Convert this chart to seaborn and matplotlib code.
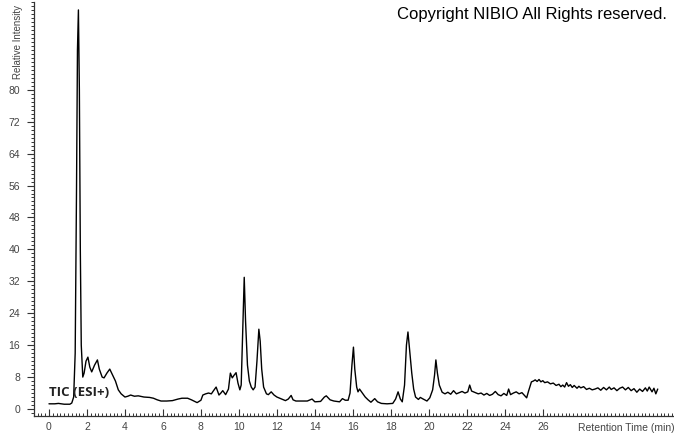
import matplotlib
matplotlib.use("Agg")
import matplotlib.pyplot as plt
import seaborn as sns
import pandas as pd
from matplotlib.ticker import MultipleLocator

# retention time (min) and relative intensity (%)
rt_min = [
    0.0, 0.3, 0.5, 0.8, 1.1, 1.2, 1.3, 1.38, 1.45, 1.5, 1.55, 1.6, 1.65, 1.7, 1.78,
    1.85, 1.95, 2.05, 2.15, 2.25, 2.4, 2.55, 2.65, 2.8, 2.9, 3.05, 3.2, 3.35, 3.5,
    3.65, 3.8, 4.0, 4.15, 4.3, 4.5, 4.7, 5.0, 5.3, 5.5, 5.7, 5.9, 6.2, 6.5, 6.8,
    7.0, 7.3, 7.5, 7.8, 8.0, 8.1, 8.25, 8.4, 8.55, 8.65, 8.8, 8.95, 9.05, 9.15,
    9.3, 9.45, 9.55, 9.65, 9.75, 9.85, 9.95, 10.05, 10.12, 10.2, 10.28, 10.35,
    10.45, 10.55, 10.65, 10.75, 10.85, 10.95, 11.05, 11.12, 11.2, 11.3, 11.45,
    11.55, 11.7, 11.85, 12.0, 12.2, 12.45, 12.6, 12.75, 12.85, 13.0, 13.3, 13.6,
    13.85, 14.0, 14.3, 14.5, 14.6, 14.8, 15.0, 15.3, 15.45, 15.6, 15.75, 15.85,
    15.95, 16.03, 16.1, 16.2, 16.27, 16.35, 16.5, 16.65, 16.8, 16.95, 17.15, 17.3,
    17.5, 17.8, 18.1, 18.25, 18.38, 18.5, 18.6, 18.72, 18.82, 18.9, 19.0, 19.1,
    19.2, 19.3, 19.45, 19.55, 19.7, 19.9, 20.05, 20.2, 20.3, 20.37, 20.45, 20.55,
    20.7, 20.85, 21.0, 21.15, 21.3, 21.45, 21.6, 21.75, 21.9, 22.05, 22.15, 22.25,
    22.4, 22.6, 22.75, 22.9, 23.05, 23.2, 23.35, 23.5, 23.65, 23.8, 23.95, 24.1,
    24.2, 24.3, 24.45, 24.6, 24.75, 24.9, 25.05, 25.15, 25.25, 25.4, 25.5, 25.6,
    25.7, 25.8, 25.9, 26.0, 26.1, 26.25, 26.4, 26.55, 26.7, 26.85, 26.95, 27.05,
    27.15, 27.25, 27.35, 27.45, 27.55, 27.65, 27.8, 27.9, 28.0, 28.15, 28.3, 28.45,
    28.6, 28.75, 28.9, 29.05, 29.2, 29.35, 29.5, 29.6, 29.75, 29.9, 30.05, 30.2,
    30.35, 30.5, 30.65, 30.8, 30.95, 31.1, 31.25, 31.4, 31.5, 31.6, 31.75, 31.85,
    31.95, 32.05,
]
intensity = [
    1.3, 1.3, 1.4, 1.2, 1.2, 1.5, 3.0, 14, 55, 90, 100, 80, 40, 16, 8,
    9, 12, 13, 10.5, 9.3, 11, 12.3, 10, 8, 7.8, 9, 10, 8.5, 7,
    4.8, 3.8, 3.0, 3.2, 3.5, 3.2, 3.3, 3.0, 2.9, 2.7, 2.3, 2.0, 2.0, 2.1, 2.5,
    2.7, 2.7, 2.3, 1.6, 2.2, 3.5, 3.8, 4.0, 3.8, 4.5, 5.5, 3.5, 4.0, 4.6,
    3.6, 5.0, 9.0, 7.8, 8.5, 9.1, 6.5, 4.8, 6, 20, 33, 22,
    11, 7, 5.5, 4.8, 5.5, 12, 20, 17, 10, 5.5, 3.8,
    3.6, 4.3, 3.5, 3.0, 2.6, 2.1, 2.5, 3.4, 2.3, 2.0, 2.0, 2.0,
    2.5, 1.8, 1.9, 3.0, 3.3, 2.3, 2.0, 1.8, 2.6, 2.2, 2.2, 4,
    11, 15.5, 10, 5.5, 4.3, 5.0, 4.0, 3.0, 2.3, 1.7, 2.6, 1.8,
    1.4, 1.3, 1.4, 2.5, 4.3, 2.5, 1.8, 6, 16, 19.3, 14, 9,
    5, 3, 2.4, 2.9, 2.5, 2.0, 2.8, 4.8, 8.5, 12.3, 9, 6,
    4.2, 3.8, 4.2, 3.7, 4.6, 3.8, 4.1, 4.4, 4.0, 4.3, 6.0, 4.5,
    4.2, 3.8, 4.0, 3.5, 3.9, 3.4, 3.7, 4.4, 3.6, 3.3, 3.9, 3.4,
    5.0, 3.6, 4.0, 4.3, 3.8, 4.1, 3.3, 2.8, 4.5, 6.8, 7.0, 7.3,
    6.9, 7.4, 6.8, 7.1, 6.6, 6.8, 6.3, 6.5, 5.9, 6.2, 5.6, 6.0,
    5.5, 6.6, 5.7, 6.1, 5.4, 5.9, 5.2, 5.7, 5.3, 5.6, 4.9, 5.2,
    4.8, 5.0, 5.3, 4.7, 5.4, 4.8, 5.5, 4.9, 5.3, 4.6, 5.2, 5.5,
    4.8, 5.4, 4.6, 5.1, 4.2, 5.0, 4.4, 5.3, 4.5, 5.5, 4.3, 5.2,
    3.8, 5.0,
]

x_ticks = list(range(0, 27, 2))
y_ticks = list(range(0, 81, 8))

df = pd.DataFrame({"rt": rt_min, "intensity": intensity})

sns.set_style("ticks")
plt.rcParams['font.family'] = ['Liberation Sans', 'DejaVu Sans']

fig = plt.figure(figsize=(6.74, 4.34), dpi=100)
ax = fig.add_axes([0.0504, 0.0415, 0.948, 0.954])

sns.lineplot(data=df, x="rt", y="intensity", ax=ax, color="black",
             linewidth=1.0, estimator=None, sort=False)

ax.set_xlim(-0.79, 32.85)
ax.set_ylim(-1.75, 102)
sns.despine(ax=ax)
for s in ("left", "bottom"):
    ax.spines[s].set_color("#333333")
    ax.spines[s].set_linewidth(0.9)

ax.set_xticks(x_ticks)
ax.set_yticks(y_ticks)
ax.xaxis.set_minor_locator(MultipleLocator(0.2))
ax.yaxis.set_minor_locator(MultipleLocator(1))
ax.tick_params(axis="x", which="major", direction="in", length=5, width=0.8,
               labelsize=7.5, colors="#333333", labelcolor="#444444", pad=4)
ax.tick_params(axis="x", which="minor", direction="in", length=2.5, width=0.7,
               colors="#333333")
ax.tick_params(axis="y", which="major", direction="out", length=5, width=0.8,
               labelsize=7.5, colors="#333333", labelcolor="#444444", pad=5)
ax.tick_params(axis="y", which="minor", direction="out", length=2.5, width=0.7,
               colors="#333333")
ax.set_xlabel("")
ax.set_ylabel("")

fig.text(578 / 674, 1 - 428 / 434, "Retention Time (min)", fontsize=7.5,
         color="#444444", ha="left", va="center")
fig.text(18 / 674, 1 - 79 / 434, "Relative Intensity", fontsize=7,
         color="#444444", rotation=90, ha="center", va="bottom")
fig.text(667 / 674, 1 - 14 / 434, "Copyright NIBIO All Rights reserved.",
         fontsize=12, color="black", ha="right", va="center")
ax.text(0.0, 2.6, "TIC (ESI+)", fontsize=9.5, fontweight="bold",
        color="#222222", family=["Open Sans", "DejaVu Sans"], ha="left",
        va="bottom")

fig.savefig("out.png", dpi=100)
